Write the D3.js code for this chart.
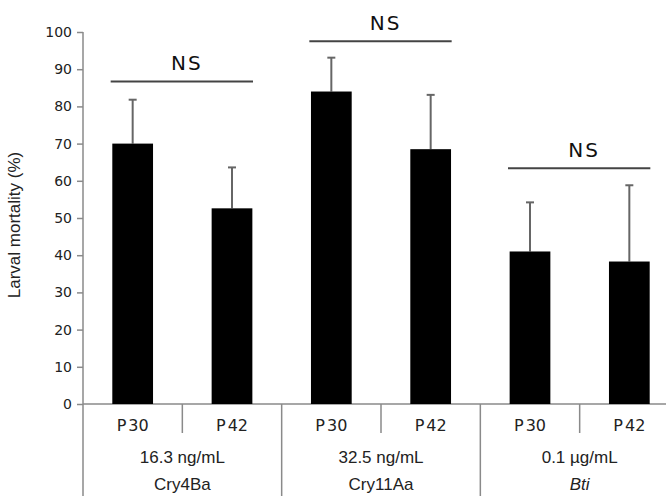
<!DOCTYPE html>
<html><head><meta charset="utf-8">
<script src="https://cdn.jsdelivr.net/npm/d3@7"></script>
<style>
html,body{margin:0;padding:0;background:#fff;}
svg{display:block;}
</style></head>
<body>
<script>
// ---- data ----
const categories = ["P30","P42","P30","P42","P30","P42"];
const concentrations = ["16.3 ng/mL","32.5 ng/mL","0.1 µg/mL"];
const toxins = ["Cry4Ba","Cry11Aa","Bti"];
const means = [70, 52.6, 84, 68.5, 41, 38.3];
const errors = [11.8, 11, 9.1, 14.6, 13.2, 20.5];
const nsLevels = [86.7, 97.5, 63.4];
const nsLabels = ["NS","NS","NS"];
const yTicks = [0,10,20,30,40,50,60,70,80,90,100];

const W = 666, H = 496;
const left = 83, right = 679, y0 = 404, y100 = 32;
const axisColor = "#8a8a8a";

const svg = d3.select("body").append("svg").attr("width", W).attr("height", H);

const x = d3.scaleBand().domain(d3.range(categories.length)).range([left, right]);
const y = d3.scaleLinear().domain([0, 100]).range([y0, y100]);
const bw = x.bandwidth() * 0.41;

// y axis
const yAxis = svg.append("g").attr("transform", `translate(${left},0)`)
  .call(d3.axisLeft(y).tickValues(yTicks).tickSize(6).tickPadding(5).tickFormat(d3.format("d")));
yAxis.select(".domain").remove();
yAxis.selectAll(".tick line").attr("stroke", axisColor).attr("stroke-width", 1.5);
yAxis.selectAll(".tick text").attr("font-family", "DejaVu Sans").attr("font-size", 14).attr("fill", "#222");
svg.append("line").attr("x1", left).attr("x2", left).attr("y1", y(100)).attr("y2", H)
  .attr("stroke", axisColor).attr("stroke-width", 1.5);

// x axis line
svg.append("line").attr("x1", left).attr("x2", W).attr("y1", y(0)).attr("y2", y(0))
  .attr("stroke", axisColor).attr("stroke-width", 1.5);

// dividers
categories.forEach((c, i) => {
  if (i === 0) return;
  const xx = x(i);
  const long = i % 2 === 0;
  svg.append("line").attr("x1", xx).attr("x2", xx).attr("y1", y(0)).attr("y2", long ? H : y(0) + 29)
    .attr("stroke", axisColor).attr("stroke-width", 1.5);
});
svg.append("line").attr("x1", x(5) + x.bandwidth()).attr("x2", x(5) + x.bandwidth())
  .attr("y1", y(0)).attr("y2", y(0) + 29).attr("stroke", axisColor).attr("stroke-width", 1.5);

// error bars
const eg = svg.append("g");
means.forEach((m, i) => {
  const cx = x(i) + x.bandwidth() / 2;
  eg.append("line").attr("x1", cx).attr("x2", cx).attr("y1", y(m)).attr("y2", y(m + errors[i]))
    .attr("stroke", "#666").attr("stroke-width", 2);
  eg.append("line").attr("x1", cx - 4).attr("x2", cx + 4).attr("y1", y(m + errors[i])).attr("y2", y(m + errors[i]))
    .attr("stroke", "#666").attr("stroke-width", 2);
});

// bars
svg.append("g").selectAll("rect").data(means).join("rect")
  .attr("x", (d, i) => x(i) + x.bandwidth() / 2 - bw / 2)
  .attr("y", d => y(d))
  .attr("width", bw)
  .attr("height", d => y(0) - y(d))
  .attr("fill", "#000");

// category labels
categories.forEach((c, i) => {
  const cx = x(i) + x.bandwidth() / 2;
  const t = svg.append("text").attr("x", cx).attr("y", 431).attr("text-anchor", "middle")
    .attr("font-family", "DejaVu Sans").attr("font-size", 16).attr("fill", "#222");
  t.append("tspan").text(c.slice(0, 1));
  t.append("tspan").attr("dx", 2).text(c.slice(1));
});

// group labels
concentrations.forEach((g, k) => {
  const cx = x(2 * k + 1);
  svg.append("text").attr("x", cx).attr("y", 463).attr("text-anchor", "middle")
    .attr("font-family", "Liberation Sans").attr("font-size", 17).attr("fill", "#222").text(g);
  svg.append("text").attr("x", cx).attr("y", 490).attr("text-anchor", "middle")
    .attr("font-family", "Liberation Sans").attr("font-size", 17).attr("fill", "#222")
    .attr("font-style", k === 2 ? "italic" : "normal").text(toxins[k]);
});

// NS annotations
nsLevels.forEach((lv, k) => {
  const c1 = x(2 * k) + x.bandwidth() / 2, c2 = x(2 * k + 1) + x.bandwidth() / 2;
  const x1 = c1 - 22, x2 = c2 + 21;
  svg.append("line").attr("x1", x1).attr("x2", x2).attr("y1", y(lv)).attr("y2", y(lv))
    .attr("stroke", "#444").attr("stroke-width", 2);
  svg.append("text").attr("x", (x1 + x2) / 2 + 5).attr("y", y(lv) - 11).attr("text-anchor", "middle")
    .attr("font-family", "DejaVu Sans").attr("font-size", 20).attr("letter-spacing", 2).attr("fill", "#111")
    .text(nsLabels[k]);
});

// y label
svg.append("text").attr("transform", `translate(20,${225}) rotate(-90)`).attr("text-anchor", "middle")
  .attr("font-family", "Liberation Sans").attr("font-size", 17).attr("fill", "#222")
  .text("Larval mortality (%)");
</script>
</body></html>
